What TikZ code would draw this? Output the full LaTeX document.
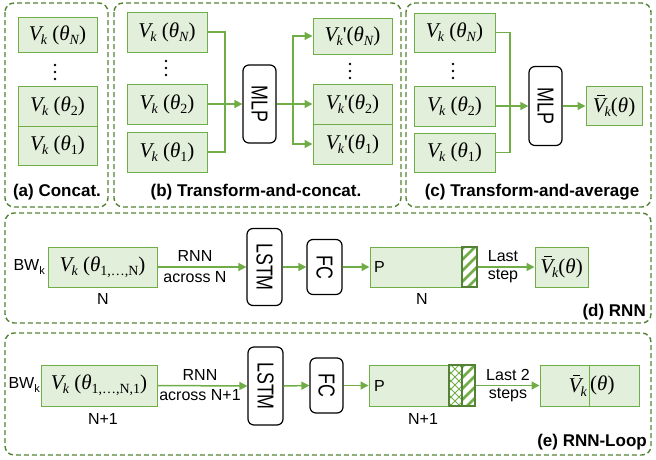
\documentclass[tikz,border=0pt]{standalone}
\usepackage{fontspec}
\setmainfont{Liberation Sans}
\newfontfamily\tms{Liberation Serif}
\usetikzlibrary{arrows.meta}
\definecolor{gfill}{HTML}{E2EFDA}
\definecolor{gline}{HTML}{70AD47}
\definecolor{gdark}{HTML}{548235}
\newcommand\lowsub[1]{\raisebox{-0.45ex}{\fontsize{14}{14}\selectfont #1}}
\newcommand\smallsub[1]{\raisebox{-0.4ex}{\fontsize{11}{11}\selectfont #1}}
\newcommand\myV{{\itshape V}\kern-0.04em\lowsub{\itshape k}}
\newcommand\myVbar{\makebox[0pt][l]{\hspace{0.2em}\raisebox{0.78em}{\rule{0.36em}{0.9pt}}}{\itshape V}\kern-0.04em\lowsub{\itshape k}}
\newcommand\thet[1]{(\textit{θ}\lowsub{#1})}
\newcommand\rot[1]{\rotatebox{-90}{\scalebox{0.85}[1.1]{#1}}}
\newcommand\threedots[2]{\fill (#1,#2-7) circle (1.4); \fill (#1,#2) circle (1.4); \fill (#1,#2+7) circle (1.4);}
\tikzset{
  vbox/.style={draw=gline, fill=gfill, line width=1pt, inner sep=0pt,
    font=\tms\fontsize{21}{24}\selectfont},
  vtxt/.style={inner sep=0pt, font=\tms\fontsize{21}{24}\selectfont},
  blk/.style={draw=black, rounded corners=6pt, line width=1.2pt, inner sep=0pt,
    font=\fontsize{21}{23}\selectfont},
  panel/.style={draw=gdark, dash pattern=on 5pt off 3pt, line width=1.4pt, rounded corners=9pt},
  conn/.style={draw=gline, line width=1.5pt},
  arr/.style={conn, -{Triangle[length=8pt,width=8pt]}},
  lab/.style={inner sep=0pt, font=\fontsize{16}{18}\selectfont},
  plab/.style={inner sep=0pt, font=\bfseries\fontsize{17}{19}\selectfont},
}
\begin{document}
\begin{tikzpicture}[x=1pt,y=-1pt]
\useasboundingbox (0,0) rectangle (656,459);
% panels
\draw[panel] (5,3) rectangle (108,207);
\draw[panel] (114,3) rectangle (401,207);
\draw[panel] (406,3) rectangle (651,207);
\draw[panel] (5,213) rectangle (651,323);
\draw[panel] (5,333) rectangle (651,455);

% (a)
\node[vbox, minimum width=79, minimum height=35] (aN) at (57.5,35) {\myV\ \thet{\itshape N}};
\threedots{55}{72}
\node[vbox, minimum width=79, minimum height=40] (a2) at (57.5,106) {\myV\ \thet{2}};
\node[vbox, minimum width=79, minimum height=39] (a1) at (57.5,145.5) {\myV\ \thet{1}};
\node[plab] (alab) at (57,192) {(a) Concat.};

% (b)
\node[vbox, minimum width=80, minimum height=40] (bN) at (167,32) {\myV\ \thet{\itshape N}};
\threedots{166}{68}
\node[vbox, minimum width=80, minimum height=40] (b2) at (167,104) {\myV\ \thet{2}};
\node[vbox, minimum width=80, minimum height=40] (b1) at (167,152) {\myV\ \thet{1}};
\node[blk, minimum width=33, minimum height=78] (mlpb) at (259.5,104) {\rot{MLP}};
\coordinate (bbus) at (225,104);
\coordinate (obus) at (293,104);
\node[vbox, minimum width=79, minimum height=36] (oN) at (352.5,36) {\myV'\thet{\itshape N}};
\threedots{350}{71}
\node[vbox, minimum width=79, minimum height=40] (o2) at (352.5,104) {\myV'\thet{2}};
\node[vbox, minimum width=79, minimum height=40] (o1) at (352.5,144) {\myV'\thet{1}};
\draw[conn] (bN.east) -| (bbus);
\draw[conn] (b1.east) -| (bbus);
\draw[conn] (b2.east) -- (bbus);
\draw[arr] (bbus) -- (mlpb.west);
\draw[conn] (mlpb.east) -- (obus);
\draw[arr] (obus) |- (oN.west);
\draw[arr] (obus) -- (o2.west);
\draw[arr] (obus) |- (o1.west);
\node[plab] (blab) at (256,192) {(b) Transform-and-concat.};

% (c)
\node[vbox, minimum width=81, minimum height=39] (cN) at (454.5,32.5) {\myV\ \thet{\itshape N}};
\threedots{453}{71}
\node[vbox, minimum width=81, minimum height=40] (c2) at (454.5,106) {\myV\ \thet{2}};
\node[vbox, minimum width=81, minimum height=39] (c1) at (454.5,152.5) {\myV\ \thet{1}};
\coordinate (cbus) at (510,106);
\node[blk, minimum width=33, minimum height=79] (mlpc) at (545.5,106) {\rot{MLP}};
\node[vbox, minimum width=56, minimum height=39] (cout) at (614,106) {\myVbar(\textit{θ})};
\draw[conn] (cN.east) -| (cbus);
\draw[conn] (c1.east) -| (cbus);
\draw[conn] (c2.east) -- (cbus);
\draw[arr] (cbus) -- (mlpc.west);
\draw[arr] (mlpc.east) -- (cout.west);
\node[plab] (clab) at (532,192) {(c) Transform-and-average};

% (d)
\node[lab, anchor=east] (dbw) at (45,267) {BW\smallsub{k}};
\node[vbox, minimum width=109, minimum height=40] (din) at (102.5,267) {\myV\ \thet{1,…,N}};
\node[lab] (dN1) at (103,299) {N};
\node[blk, minimum width=35, minimum height=77] (dlstm) at (264.5,267) {\rot{LSTM}};
\node[blk, minimum width=35, minimum height=55] (dfc) at (324.5,267) {\rot{FC}};
\node[vbox, minimum width=107, minimum height=40] (dp) at (423.5,267) {};
\node[lab, anchor=west] (dptxt) at (374,267) {P};
\begin{scope}
  \clip (462,247) rectangle (477,287);
  \fill[white] (462,247) rectangle (477,287);
  \foreach \Y in {245,256,...,330} \draw[gline, line width=2.6pt] (455,\Y) -- ++(32,-32);
\end{scope}
\draw[gdark, line width=1.4pt] (462,247) rectangle (477,287);
\node[lab] (dN2) at (422,299) {N};
\node[vbox, minimum width=53, minimum height=40] (dout) at (561.5,267) {\myVbar(\textit{θ})};
\draw[arr] (din.east) -- (dlstm.west);
\node[lab] (drnn) at (195,256) {RNN};
\node[lab] (dacr) at (195,277) {across N};
\draw[arr] (dlstm.east) -- (dfc.west);
\draw[arr] (dfc.east) -- (dp.west);
\draw[arr] (dp.east) -- (dout.west);
\node[lab] (dlast) at (503,256) {Last};
\node[lab] (dstep) at (503,276) {step};
\node[plab, anchor=east] (dlab) at (646,312) {(d) RNN};

% (e)
\node[lab, anchor=east] (ebw) at (40,385) {BW\smallsub{k}};
\node[vbox, minimum width=116, minimum height=41] (ein) at (99,385.5) {\myV\ \thet{1,…,N,1}};
\node[lab] (eN1) at (103,419) {N+1};
\node[blk, minimum width=35, minimum height=78] (elstm) at (265.5,386) {\rot{LSTM}};
\node[blk, minimum width=33, minimum height=55] (efc) at (326.5,385.5) {\rot{FC}};
\node[vbox, minimum width=106, minimum height=41] (ep) at (422,385.5) {};
\node[lab, anchor=west] (eptxt) at (374,385.5) {P};
\begin{scope}
  \clip (449,365) rectangle (462,406);
  \fill[white] (449,365) rectangle (462,406);
  \foreach \Y in {360,368,...,430} {
    \draw[gline, line width=0.8pt] (440,\Y) -- ++(30,-30);
    \draw[gline, line width=0.8pt] (440,\Y-30) -- ++(30,30);
  }
\end{scope}
\begin{scope}
  \clip (462,365) rectangle (475,406);
  \fill[white] (462,365) rectangle (475,406);
  \foreach \Y in {363,374,...,450} \draw[gline, line width=2.6pt] (455,\Y) -- ++(32,-32);
\end{scope}
\draw[gdark, line width=1.4pt] (449,365) rectangle (462,406);
\draw[gdark, line width=1.4pt] (462,365) rectangle (475,406);
\node[lab] (eN2) at (423,419) {N+1};
\node[vbox, minimum width=49, minimum height=41] (eoutL) at (564.5,385.5) {};
\node[vbox, minimum width=50, minimum height=41] (eoutR) at (614,385.5) {};
\node[vtxt, anchor=east] (eoutLt) at (587,386) {\myVbar};
\node[vtxt, anchor=west] (eoutRt) at (590,385.5) {(\textit{θ})};
\draw[arr] (ein.east) -- (elstm.west);
\node[lab] (ernn) at (200,375) {RNN};
\node[lab] (eacr) at (200,395) {across N+1};
\draw[arr] (elstm.east) -- (efc.west);
\draw[arr] (efc.east) -- (ep.west);
\draw[arr] (ep.east) -- (eoutL.west);
\node[lab] (elast) at (508,375) {Last 2};
\node[lab] (esteps) at (508,395) {steps};
\node[plab, anchor=east] (elab) at (647,442) {(e) RNN-Loop};
\end{tikzpicture}
\end{document}
